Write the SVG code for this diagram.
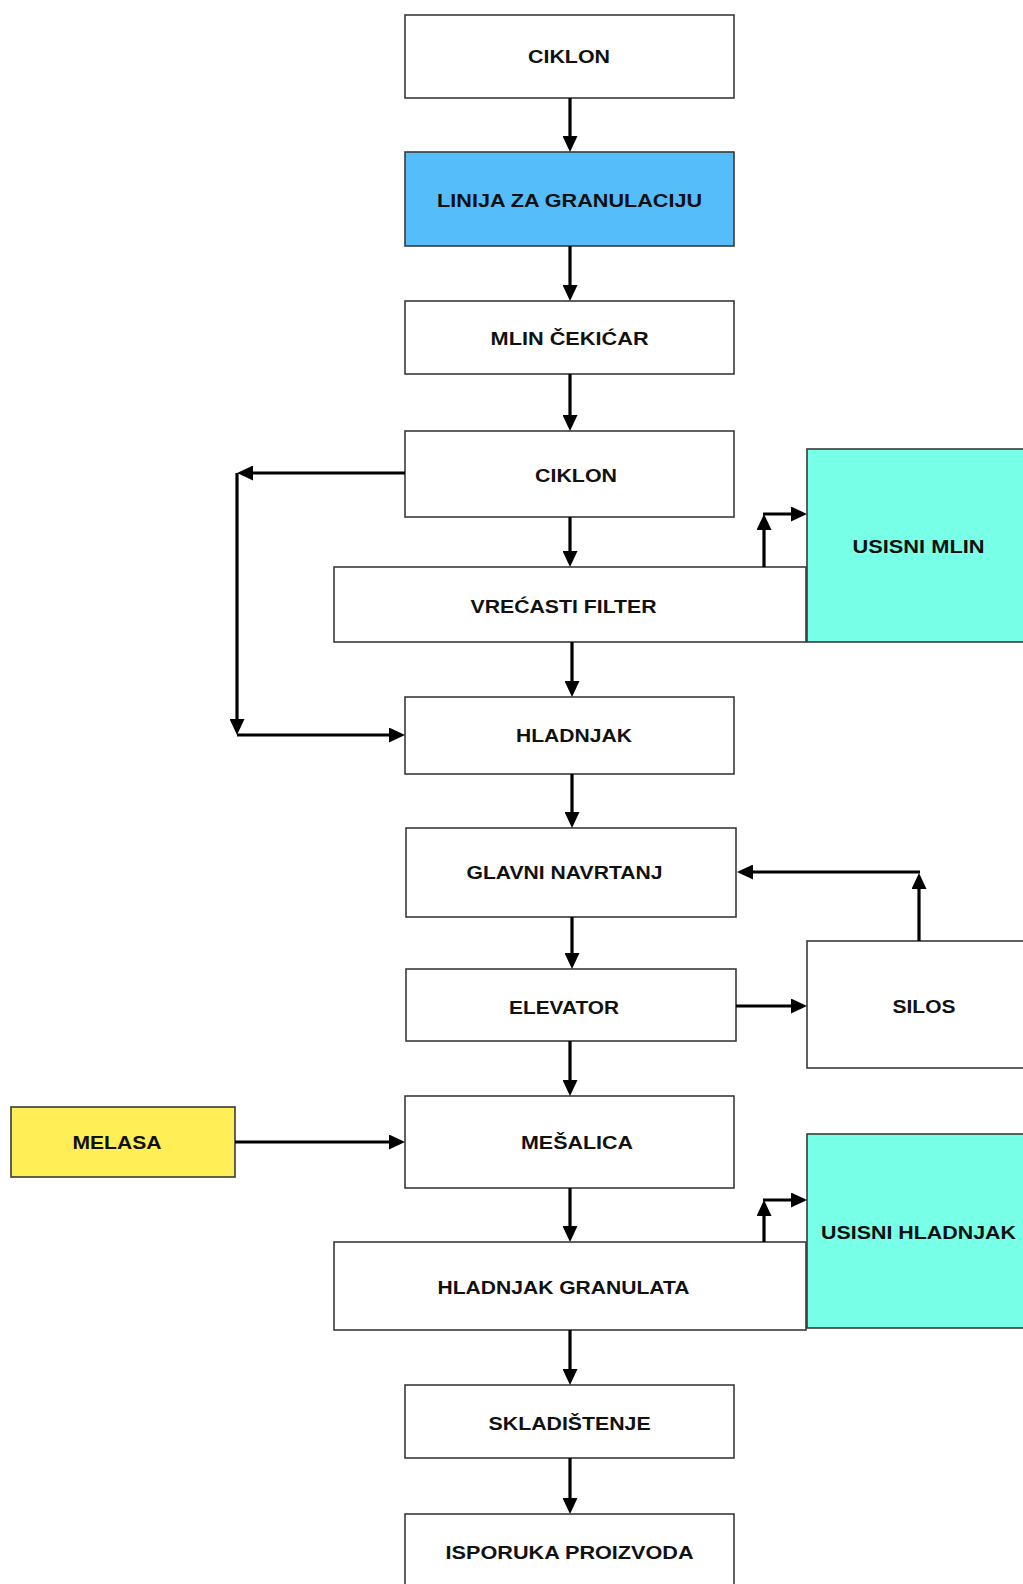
<svg xmlns="http://www.w3.org/2000/svg" width="1023" height="1584" viewBox="0 0 1023 1584">
<defs>
<marker id="ah" markerUnits="userSpaceOnUse" markerWidth="17" markerHeight="15" refX="6" refY="7.5" orient="auto">
<path d="M0,0 L16,7.5 L0,15 z" fill="#000"/>
</marker>
<style>
.box{fill:#fff;stroke:#3a3a3a;stroke-width:1.6}
.blue{fill:#56bdfb}
.aqua{fill:#78ffe8}
.yellow{fill:#ffee55}
.lbl{font-family:"Liberation Sans",Arial,sans-serif;font-weight:bold;font-size:18px;fill:#111;text-anchor:middle}
.c{fill:none;stroke:#000;stroke-width:3.2;marker-end:url(#ah)}
</style>
</defs>
<rect width="1023" height="1584" fill="#fff"/>

<g id="ciklon1"><rect class="box" x="405" y="15" width="329" height="83"/><text class="lbl" x="569" y="63" textLength="82" lengthAdjust="spacingAndGlyphs">CIKLON</text></g>
<g id="linija"><rect class="box blue" x="405" y="152" width="329" height="94"/><text class="lbl" x="569.6" y="206.5" textLength="265" lengthAdjust="spacingAndGlyphs">LINIJA ZA GRANULACIJU</text></g>
<g id="mlin"><rect class="box" x="405" y="301" width="329" height="73"/><text class="lbl" x="569.6" y="344.5" textLength="158" lengthAdjust="spacingAndGlyphs">MLIN ČEKIĆAR</text></g>
<g id="ciklon2"><rect class="box" x="405" y="431" width="329" height="86"/><text class="lbl" x="576" y="482" textLength="82" lengthAdjust="spacingAndGlyphs">CIKLON</text></g>
<g id="usisni-mlin"><rect class="box aqua" x="807" y="449" width="220" height="193"/><text class="lbl" x="918.5" y="552.5" textLength="132" lengthAdjust="spacingAndGlyphs">USISNI MLIN</text></g>
<g id="vrecasti"><rect class="box" x="334" y="567" width="472" height="75"/><text class="lbl" x="563.5" y="612.5" textLength="186" lengthAdjust="spacingAndGlyphs">VREĆASTI FILTER</text></g>
<g id="hladnjak"><rect class="box" x="405" y="697" width="329" height="77"/><text class="lbl" x="574" y="741.5" textLength="116" lengthAdjust="spacingAndGlyphs">HLADNJAK</text></g>
<g id="glavni"><rect class="box" x="406" y="828" width="330" height="89"/><text class="lbl" x="564.5" y="879" textLength="196" lengthAdjust="spacingAndGlyphs">GLAVNI NAVRTANJ</text></g>
<g id="elevator"><rect class="box" x="406" y="969" width="330" height="72"/><text class="lbl" x="564" y="1013.5" textLength="110" lengthAdjust="spacingAndGlyphs">ELEVATOR</text></g>
<g id="silos"><rect class="box" x="807" y="941" width="220" height="127"/><text class="lbl" x="924" y="1012.5" textLength="63" lengthAdjust="spacingAndGlyphs">SILOS</text></g>
<g id="melasa"><rect class="box yellow" x="11" y="1107" width="224" height="70"/><text class="lbl" x="117" y="1148.5" textLength="89" lengthAdjust="spacingAndGlyphs">MELASA</text></g>
<g id="mesalica"><rect class="box" x="405" y="1096" width="329" height="92"/><text class="lbl" x="577" y="1148.5" textLength="112" lengthAdjust="spacingAndGlyphs">MEŠALICA</text></g>
<g id="usisni-hladnjak"><rect class="box aqua" x="807" y="1134" width="220" height="194"/><text class="lbl" x="918.5" y="1238.5" textLength="195" lengthAdjust="spacingAndGlyphs">USISNI HLADNJAK</text></g>
<g id="hladnjak-granulata"><rect class="box" x="334" y="1242" width="472" height="88"/><text class="lbl" x="563.5" y="1294" textLength="252" lengthAdjust="spacingAndGlyphs">HLADNJAK GRANULATA</text></g>
<g id="skladistenje"><rect class="box" x="405" y="1385" width="329" height="73"/><text class="lbl" x="569.6" y="1429.5" textLength="162" lengthAdjust="spacingAndGlyphs">SKLADIŠTENJE</text></g>
<g id="isporuka"><rect class="box" x="405" y="1514" width="329" height="80"/><text class="lbl" x="569.6" y="1558.5" textLength="248" lengthAdjust="spacingAndGlyphs">ISPORUKA PROIZVODA</text></g>

<g id="connectors">
<path class="c" d="M570,98 V142"/>
<path class="c" d="M570,246 V291"/>
<path class="c" d="M570,374 V421"/>
<path class="c" d="M570,517 V557"/>
<path class="c" d="M405,473 H247"/>
<path class="c" d="M237,473 V725"/>
<path class="c" d="M237,735 H395"/>
<path class="c" d="M764,567 V524"/>
<path class="c" d="M763,514 H797"/>
<path class="c" d="M572,642 V687"/>
<path class="c" d="M572,774 V818"/>
<path class="c" d="M572,917 V959"/>
<path class="c" d="M736,1006 H797"/>
<path class="c" d="M919,941 V883"/>
<path class="c" d="M920,872 H747"/>
<path class="c" d="M570,1041 V1086"/>
<path class="c" d="M235,1142 H395"/>
<path class="c" d="M570,1188 V1232"/>
<path class="c" d="M764,1242 V1210"/>
<path class="c" d="M763,1200 H797"/>
<path class="c" d="M570,1330 V1375"/>
<path class="c" d="M570,1458 V1504"/>
</g>
</svg>
